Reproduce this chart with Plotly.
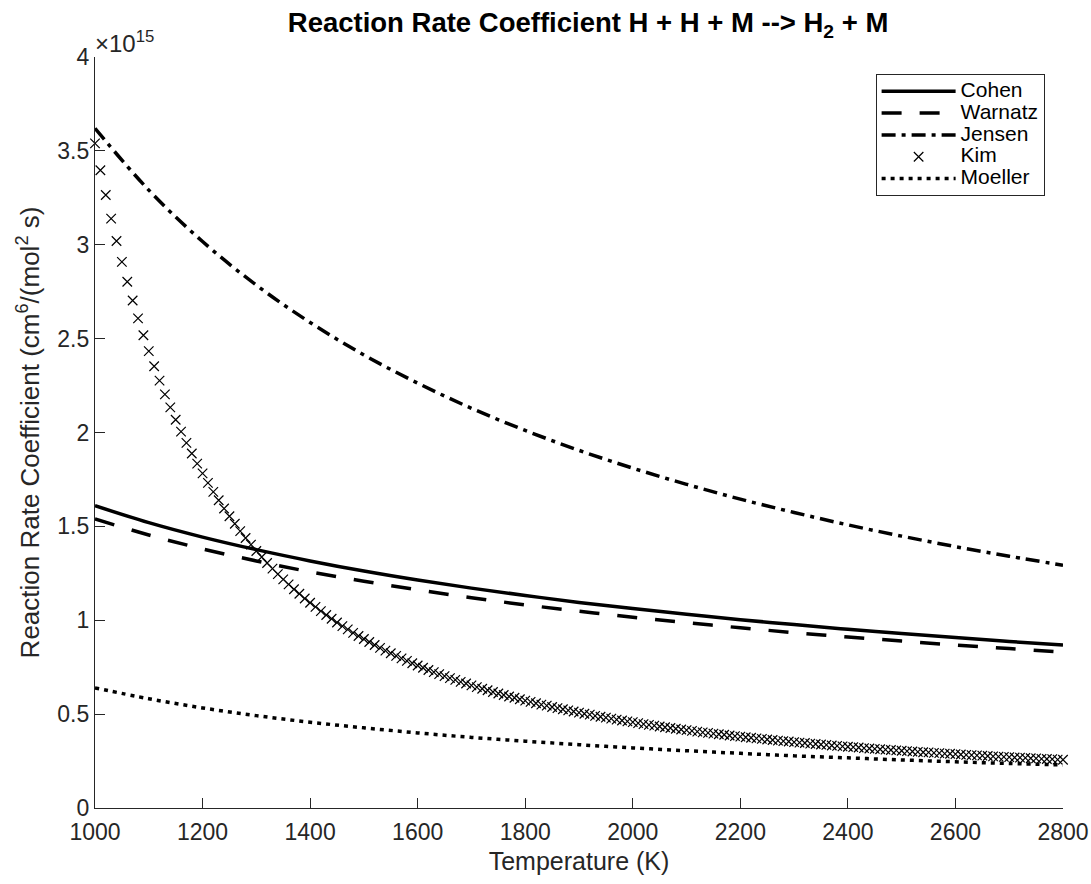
import plotly.graph_objects as go

# Temperatures (K) for the smooth model curves
T_lines = [1000, 1100, 1200, 1300, 1400, 1500, 1600, 1700, 1800, 1900,
           2000, 2100, 2200, 2300, 2400, 2500, 2600, 2700, 2800]

# Rate coefficients in units of 1e15 cm^6/(mol^2 s)
cohen = [1.610, 1.520, 1.443, 1.376, 1.316, 1.262, 1.214, 1.171, 1.132, 1.095,
         1.062, 1.032, 1.003, 0.977, 0.952, 0.929, 0.908, 0.887, 0.868]
warnatz = [1.540, 1.454, 1.380, 1.316, 1.258, 1.208, 1.162, 1.120, 1.082, 1.048,
           1.016, 0.987, 0.960, 0.934, 0.911, 0.889, 0.868, 0.849, 0.830]
jensen = [3.620, 3.291, 3.017, 2.785, 2.586, 2.413, 2.263, 2.129, 2.011, 1.905,
          1.810, 1.724, 1.645, 1.574, 1.508, 1.448, 1.392, 1.341, 1.293]
moeller = [0.640, 0.582, 0.533, 0.492, 0.457, 0.427, 0.400, 0.376, 0.356, 0.337,
           0.320, 0.305, 0.291, 0.278, 0.267, 0.256, 0.246, 0.237, 0.229]

# Kim: sampled points (K) and values (1e15 units)
kim_T = list(range(1000, 2801, 10))
kim = [3.540, 3.397, 3.265, 3.139, 3.020, 2.909, 2.803, 2.703, 2.608, 2.518,
       2.433, 2.353, 2.276, 2.203, 2.134, 2.068, 2.005, 1.945, 1.888, 1.834,
       1.782, 1.732, 1.684, 1.639, 1.595, 1.554, 1.514, 1.475, 1.438, 1.403,
       1.369, 1.337, 1.305, 1.275, 1.246, 1.218, 1.191, 1.165, 1.141, 1.116,
       1.093, 1.071, 1.049, 1.028, 1.008, 0.988, 0.969, 0.951, 0.933, 0.916,
       0.900, 0.884, 0.868, 0.853, 0.838, 0.824, 0.810, 0.797, 0.784, 0.771,
       0.759, 0.747, 0.735, 0.724, 0.713, 0.702, 0.692, 0.682, 0.672, 0.663,
       0.653, 0.644, 0.635, 0.627, 0.618, 0.610, 0.602, 0.594, 0.587, 0.579,
       0.572, 0.565, 0.558, 0.551, 0.545, 0.538, 0.532, 0.526, 0.520, 0.514,
       0.508, 0.502, 0.497, 0.491, 0.486, 0.481, 0.476, 0.471, 0.466, 0.461,
       0.457, 0.452, 0.447, 0.443, 0.439, 0.434, 0.430, 0.426, 0.422, 0.418,
       0.415, 0.411, 0.407, 0.403, 0.400, 0.396, 0.393, 0.390, 0.386, 0.383,
       0.380, 0.377, 0.374, 0.371, 0.368, 0.365, 0.362, 0.359, 0.356, 0.354,
       0.351, 0.348, 0.346, 0.343, 0.341, 0.338, 0.336, 0.333, 0.331, 0.328,
       0.326, 0.324, 0.322, 0.319, 0.317, 0.315, 0.313, 0.311, 0.309, 0.307,
       0.305, 0.303, 0.301, 0.299, 0.297, 0.296, 0.294, 0.292, 0.290, 0.289,
       0.287, 0.285, 0.283, 0.282, 0.280, 0.279, 0.277, 0.275, 0.274, 0.272,
       0.271, 0.269, 0.268, 0.267, 0.265, 0.264, 0.262, 0.261, 0.260, 0.258,
       0.257]

x_ticks = [1000, 1200, 1400, 1600, 1800, 2000, 2200, 2400, 2600, 2800]
y_ticks = [0, 0.5, 1, 1.5, 2, 2.5, 3, 3.5, 4]

FONT = "Liberation Sans, Arial, Helvetica, sans-serif"
AX = "#262626"
LW = 3.5


def leg(name):
    # larger legend text while keeping compact legend rows
    return "<span style='font-size:21px'>" + name + "</span>"


fig = go.Figure()
fig.add_trace(go.Scatter(x=T_lines, y=cohen, name=leg("Cohen"), mode="lines",
                         line=dict(color="black", width=LW, shape="spline")))
fig.add_trace(go.Scatter(x=T_lines, y=warnatz, name=leg("Warnatz"), mode="lines",
                         line=dict(color="black", width=LW, dash="20px,18px", shape="spline")))
fig.add_trace(go.Scatter(x=T_lines, y=jensen, name=leg("Jensen"), mode="lines",
                         line=dict(color="black", width=LW, dash="14px,6px,4px,6px", shape="spline")))
fig.add_trace(go.Scatter(x=kim_T, y=kim, name=leg("Kim"), mode="markers", cliponaxis=False,
                         marker=dict(symbol="x-thin", size=9.5, color="black",
                                     line=dict(color="black", width=1.2))))
fig.add_trace(go.Scatter(x=T_lines, y=moeller, name=leg("Moeller"), mode="lines",
                         line=dict(color="black", width=LW, dash="4px,5px", shape="spline")))

fig.update_layout(
    width=1091, height=884,
    margin=dict(l=95, r=28, t=57, b=76, autoexpand=False),
    paper_bgcolor="white", plot_bgcolor="white",
    font=dict(family=FONT, size=23, color=AX),
    title=dict(text="<b>Reaction Rate Coefficient H + H + M --> H<sub>2</sub> + M</b>",
               x=0.539, xanchor="center", y=0.975, yanchor="middle",
               font=dict(size=27.5, color="black", family=FONT)),
    showlegend=True,
    legend=dict(x=0.981, xanchor="right", y=0.977, yanchor="top",
                bgcolor="white", bordercolor=AX, borderwidth=1,
                font=dict(size=14.5, color="black", family=FONT),
                itemwidth=74, tracegroupgap=0),
)
fig.update_xaxes(range=[1000, 2800], tickvals=x_ticks, ticks="inside", ticklen=10,
                 tickcolor=AX, showline=True, linecolor=AX, linewidth=1.3,
                 mirror=False, showgrid=False, zeroline=False, automargin=False,
                 tickfont=dict(size=23, color=AX), ticklabelstandoff=3,
                 title=dict(text="Temperature (K)", font=dict(size=25, color=AX), standoff=8))
fig.update_yaxes(range=[0, 4], tickvals=y_ticks, ticks="inside", ticklen=10,
                 tickcolor=AX, showline=True, linecolor=AX, linewidth=1.3,
                 mirror=False, showgrid=False, zeroline=False, automargin=False,
                 tickfont=dict(size=23, color=AX),
                 title=dict(text="Reaction Rate Coefficient (cm<sup>6</sup>/(mol<sup>2</sup> s)",
                            font=dict(size=26, color=AX), standoff=10))
fig.add_annotation(text="\u00d710<sup>15</sup>", xref="paper", yref="paper",
                   x=0, y=1, xanchor="left", yanchor="bottom", showarrow=False,
                   font=dict(size=24, color=AX, family=FONT), xshift=-2, yshift=-2)

fig.write_html("out.html")
